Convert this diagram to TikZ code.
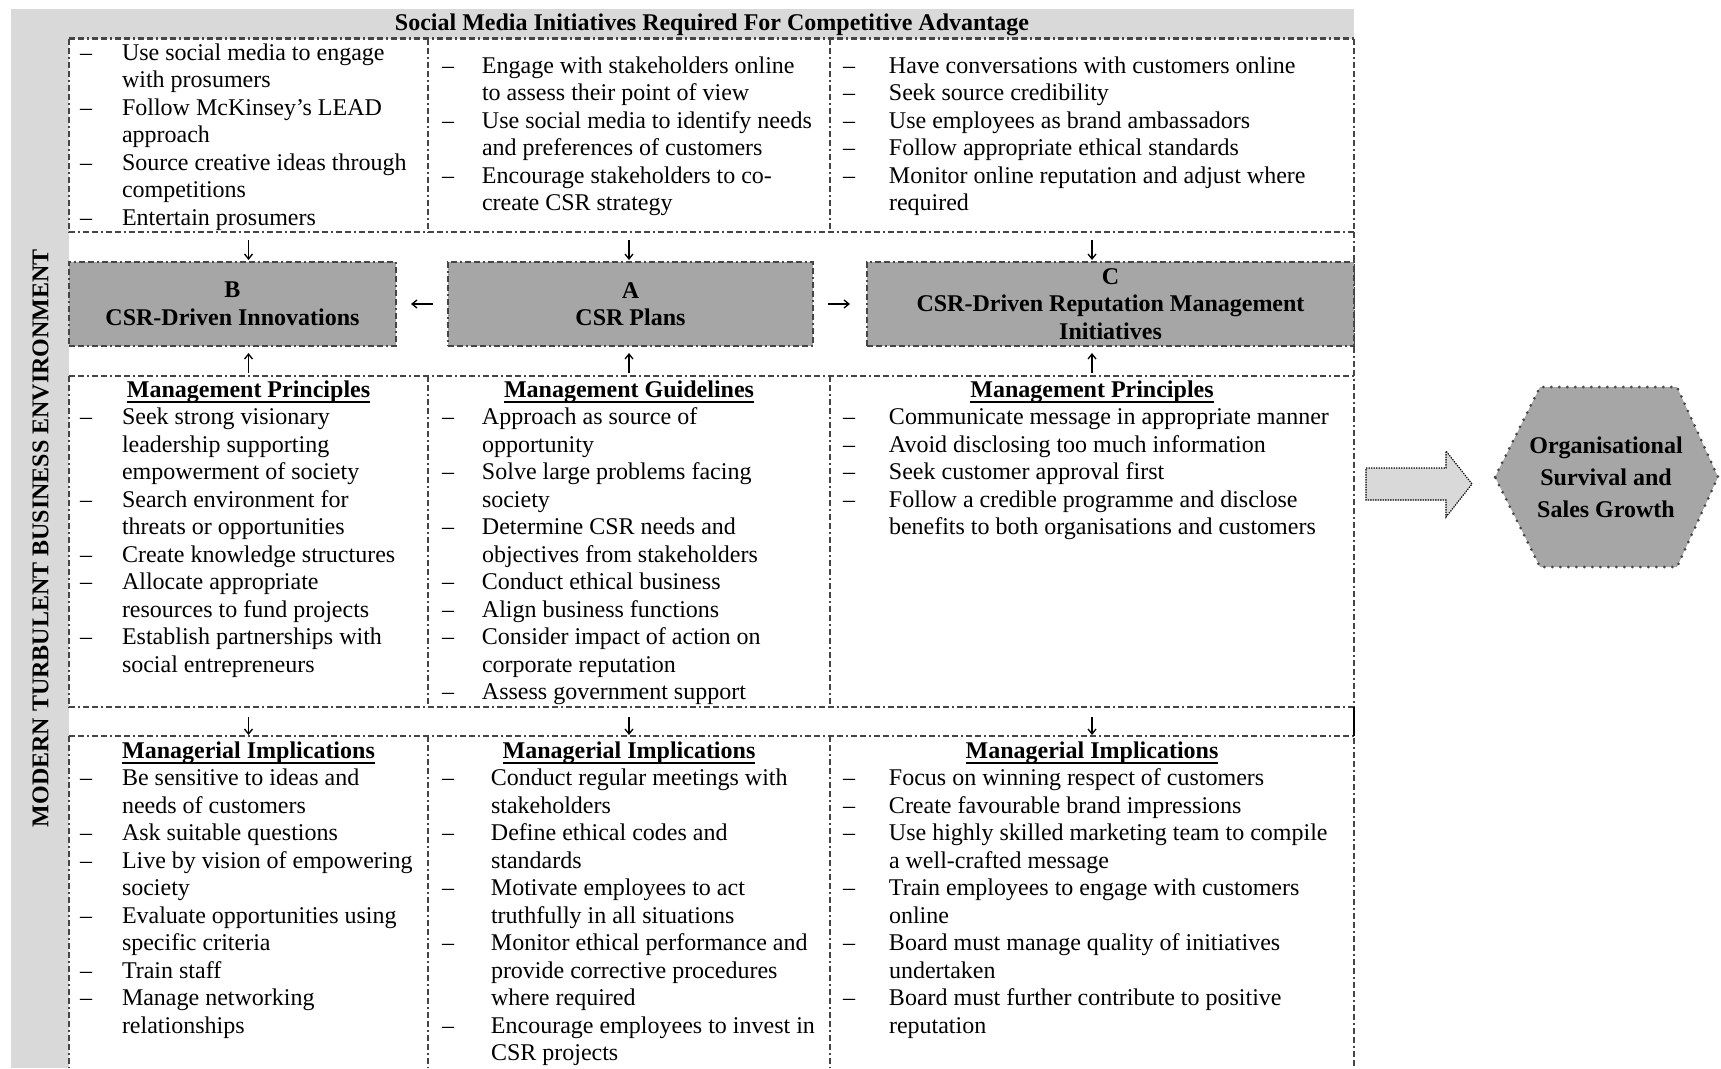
\documentclass[tikz,border=0pt]{standalone}
\usepackage{fontspec}
\setmainfont{Liberation Serif}
\usetikzlibrary{arrows.meta}
\definecolor{bglight}{HTML}{D9D9D9}
\definecolor{boxgray}{HTML}{A6A6A6}
\definecolor{linegray}{HTML}{454545}
\newcommand\mylist[2]{\def\dsh{\makebox[#1][l]{–}}\begin{tabular}[t]{@{}l@{}l@{}}#2\end{tabular}}
\newcommand\ulhead[1]{\setbox0\hbox{#1}\rlap{\rule[-5.5pt]{\wd0}{1.6pt}}\box0}
\tikzset{
  txt/.style={inner sep=0pt, outer sep=0pt, font=\fontsize{24}{27.5}\selectfont, anchor=base west},
  hdr/.style={inner sep=0pt, outer sep=0pt, font=\fontsize{24}{27.5}\selectfont\bfseries, anchor=base},
  dline/.style={draw=linegray, line width=2.3pt, dash pattern=on 6pt off 3pt on 6pt off 3pt on 2pt off 3pt},
  csr/.style={draw=linegray, line width=2.3pt, dash pattern=on 6pt off 3pt on 6pt off 3pt on 2pt off 3pt, fill=boxgray,
    inner sep=0pt, outer sep=0pt, font=\fontsize{24}{27.5}\selectfont\bfseries, align=center, anchor=north west},
  arr/.style={line width=1.3pt, -{Straight Barb[length=5pt,width=8pt]}},
  cell/.style={inner sep=0pt, outer sep=0pt, anchor=north west}
}
\begin{document}
\begin{tikzpicture}[x=1pt,y=-1pt]
\useasboundingbox (0,0) rectangle (1721,1068);
% background bands
\fill[bglight] (11,9) rectangle (1354,38.5);
\fill[bglight] (11,9) rectangle (69,1068);

% invisible cells
\node[cell, minimum width=359, minimum height=193.5] (T1) at (69,38.5) {};
\node[cell, minimum width=402, minimum height=193.5] (T2) at (428,38.5) {};
\node[cell, minimum width=524, minimum height=193.5] (T3) at (830,38.5) {};
\node[cell, minimum width=359, minimum height=331] (M1) at (69,376) {};
\node[cell, minimum width=402, minimum height=331] (M2) at (428,376) {};
\node[cell, minimum width=524, minimum height=331] (M3) at (830,376) {};
\node[cell, minimum width=359, minimum height=332] (L1) at (69,736) {};
\node[cell, minimum width=402, minimum height=332] (L2) at (428,736) {};
\node[cell, minimum width=524, minimum height=332] (L3) at (830,736) {};

% grid lines
\draw[dline] (T1.north west) -- (T3.north east);
\draw[dline] (T1.north west) -- (T1.south west) -- (T3.south east);
\draw[dline] (T1.north east) -- (T1.south east);
\draw[dline] (T2.north east) -- (T2.south east);
\draw[dline] (T3.north east) -- (L3.south east);
\draw[dline] (M1.north west) -- (M3.north east);
\draw[dline] (M1.north west) -- (M1.south west) -- (M3.south east);
\draw[dline] (M1.north east) -- (M1.south east);
\draw[dline] (M2.north east) -- (M2.south east);
\draw[dline] (L1.north west) -- (L3.north east);
\draw[dline] (L1.north west) -- (L1.south west);
\draw[dline] (L1.north east) -- (L1.south east);
\draw[dline] (L2.north east) -- (L2.south east);
\draw[line width=1.6pt] (M3.south east) -- (L3.north east);

% title and side label
\node[hdr] (title) at (712,30) {Social Media Initiatives Required For Competitive Advantage};
\node[inner sep=0pt, font=\fontsize{24}{27.5}\selectfont\bfseries, rotate=90] (env) at (40.5,538) {MODERN TURBULENT BUSINESS ENVIRONMENT};

% top row lists
\node[txt] (tl) at (80,60) {\mylist{42pt}{%
\dsh & Use social media to engage\\
 & with prosumers\\
\dsh & Follow McKinsey’s LEAD\\
 & approach\\
\dsh & Source creative ideas through\\
 & competitions\\
\dsh & Entertain prosumers}};
\node[txt] (tm) at (442,73) {\mylist{40pt}{%
\dsh & Engage with stakeholders online\\
 & to assess their point of view\\
\dsh & Use social media to identify needs\\
 & and preferences of customers\\
\dsh & Encourage stakeholders to co-\\
 & create CSR strategy}};
\node[txt] (tr) at (843,73) {\mylist{46pt}{%
\dsh & Have conversations with customers online\\
\dsh & Seek source credibility\\
\dsh & Use employees as brand ambassadors\\
\dsh & Follow appropriate ethical standards\\
\dsh & Monitor online reputation and adjust where\\
 & required}};

% CSR boxes
\node[csr, minimum width=327, minimum height=84] (B) at (69,262) {B\\CSR-Driven Innovations};
\node[csr, minimum width=365, minimum height=84] (A) at (448,262) {A\\CSR Plans};
\node[csr, minimum width=487, minimum height=84] (C) at (867,262) {C\\CSR-Driven Reputation Management\\Initiatives};

% middle section
\node[hdr] (mh1) at (248.5,397) {\ulhead{Management Principles}};
\node[hdr] (mh2) at (629,397) {\ulhead{Management Guidelines}};
\node[hdr] (mh3) at (1092,397) {\ulhead{Management Principles}};
\node[txt] (ml) at (80,424.5) {\mylist{42pt}{%
\dsh & Seek strong visionary\\
 & leadership supporting\\
 & empowerment of society\\
\dsh & Search environment for\\
 & threats or opportunities\\
\dsh & Create knowledge structures\\
\dsh & Allocate appropriate\\
 & resources to fund projects\\
\dsh & Establish partnerships with\\
 & social entrepreneurs}};
\node[txt] (mm) at (442,424.5) {\mylist{40pt}{%
\dsh & Approach as source of\\
 & opportunity\\
\dsh & Solve large problems facing\\
 & society\\
\dsh & Determine CSR needs and\\
 & objectives from stakeholders\\
\dsh & Conduct ethical business\\
\dsh & Align business functions\\
\dsh & Consider impact of action on\\
 & corporate reputation\\
\dsh & Assess government support}};
\node[txt] (mr) at (843,424.5) {\mylist{46pt}{%
\dsh & Communicate message in appropriate manner\\
\dsh & Avoid disclosing too much information\\
\dsh & Seek customer approval first\\
\dsh & Follow a credible programme and disclose\\
 & benefits to both organisations and customers}};

% bottom section
\node[hdr] (bh1) at (248.5,758) {\ulhead{Managerial Implications}};
\node[hdr] (bh2) at (629,758) {\ulhead{Managerial Implications}};
\node[hdr] (bh3) at (1092,758) {\ulhead{Managerial Implications}};
\node[txt] (bl) at (80,785.5) {\mylist{42pt}{%
\dsh & Be sensitive to ideas and\\
 & needs of customers\\
\dsh & Ask suitable questions\\
\dsh & Live by vision of empowering\\
 & society\\
\dsh & Evaluate opportunities using\\
 & specific criteria\\
\dsh & Train staff\\
\dsh & Manage networking\\
 & relationships}};
\node[txt] (bm) at (442,785.5) {\mylist{49pt}{%
\dsh & Conduct regular meetings with\\
 & stakeholders\\
\dsh & Define ethical codes and\\
 & standards\\
\dsh & Motivate employees to act\\
 & truthfully in all situations\\
\dsh & Monitor ethical performance and\\
 & provide corrective procedures\\
 & where required\\
\dsh & Encourage employees to invest in\\
 & CSR projects}};
\node[txt] (br) at (843,785.5) {\mylist{46pt}{%
\dsh & Focus on winning respect of customers\\
\dsh & Create favourable brand impressions\\
\dsh & Use highly skilled marketing team to compile\\
 & a well-crafted message\\
\dsh & Train employees to engage with customers\\
 & online\\
\dsh & Board must manage quality of initiatives\\
 & undertaken\\
\dsh & Board must further contribute to positive\\
 & reputation}};

% connectors
\draw[arr, shorten <=8pt, shorten >=2pt] (T1.south) -- (T1.south |- B.north);
\draw[arr, shorten <=8pt, shorten >=2pt] (T2.south) -- (T2.south |- A.north);
\draw[arr, shorten <=8pt, shorten >=2pt] (T3.south) -- (T3.south |- C.north);
\draw[arr, shorten <=3pt, shorten >=7pt] (M1.north) -- (M1.north |- B.south);
\draw[arr, shorten <=3pt, shorten >=7pt] (M2.north) -- (M2.north |- A.south);
\draw[arr, shorten <=3pt, shorten >=7pt] (M3.north) -- (M3.north |- C.south);
\draw[arr, shorten <=10pt, shorten >=1pt] (M1.south) -- (L1.north);
\draw[arr, shorten <=10pt, shorten >=1pt] (M2.south) -- (L2.north);
\draw[arr, shorten <=10pt, shorten >=1pt] (M3.south) -- (L3.north);
\draw[arr, shorten <=15pt, shorten >=15pt] (A.west) -- (B.east);
\draw[arr, shorten <=15pt, shorten >=17pt] (A.east) -- (C.west);

% outcome
\filldraw[fill=bglight, draw=black, line width=1.2pt, dash pattern=on 1.3pt off 1.2pt]
  (1366,468) -- (1446,468) -- (1446,451) -- (1472,484) -- (1446,517) -- (1446,500) -- (1366,500) -- cycle;
\filldraw[fill=boxgray, draw=linegray, line width=3pt, dash pattern=on 0pt off 8pt, line cap=round]
  (1495,477) -- (1540,387) -- (1677,387) -- (1718,477) -- (1677,567) -- (1540,567) -- cycle;
\node[inner sep=0pt, font=\fontsize{24}{32}\selectfont\bfseries, align=center] (goal) at (1606,477) {Organisational\\Survival and\\Sales Growth};
\end{tikzpicture}
\end{document}
